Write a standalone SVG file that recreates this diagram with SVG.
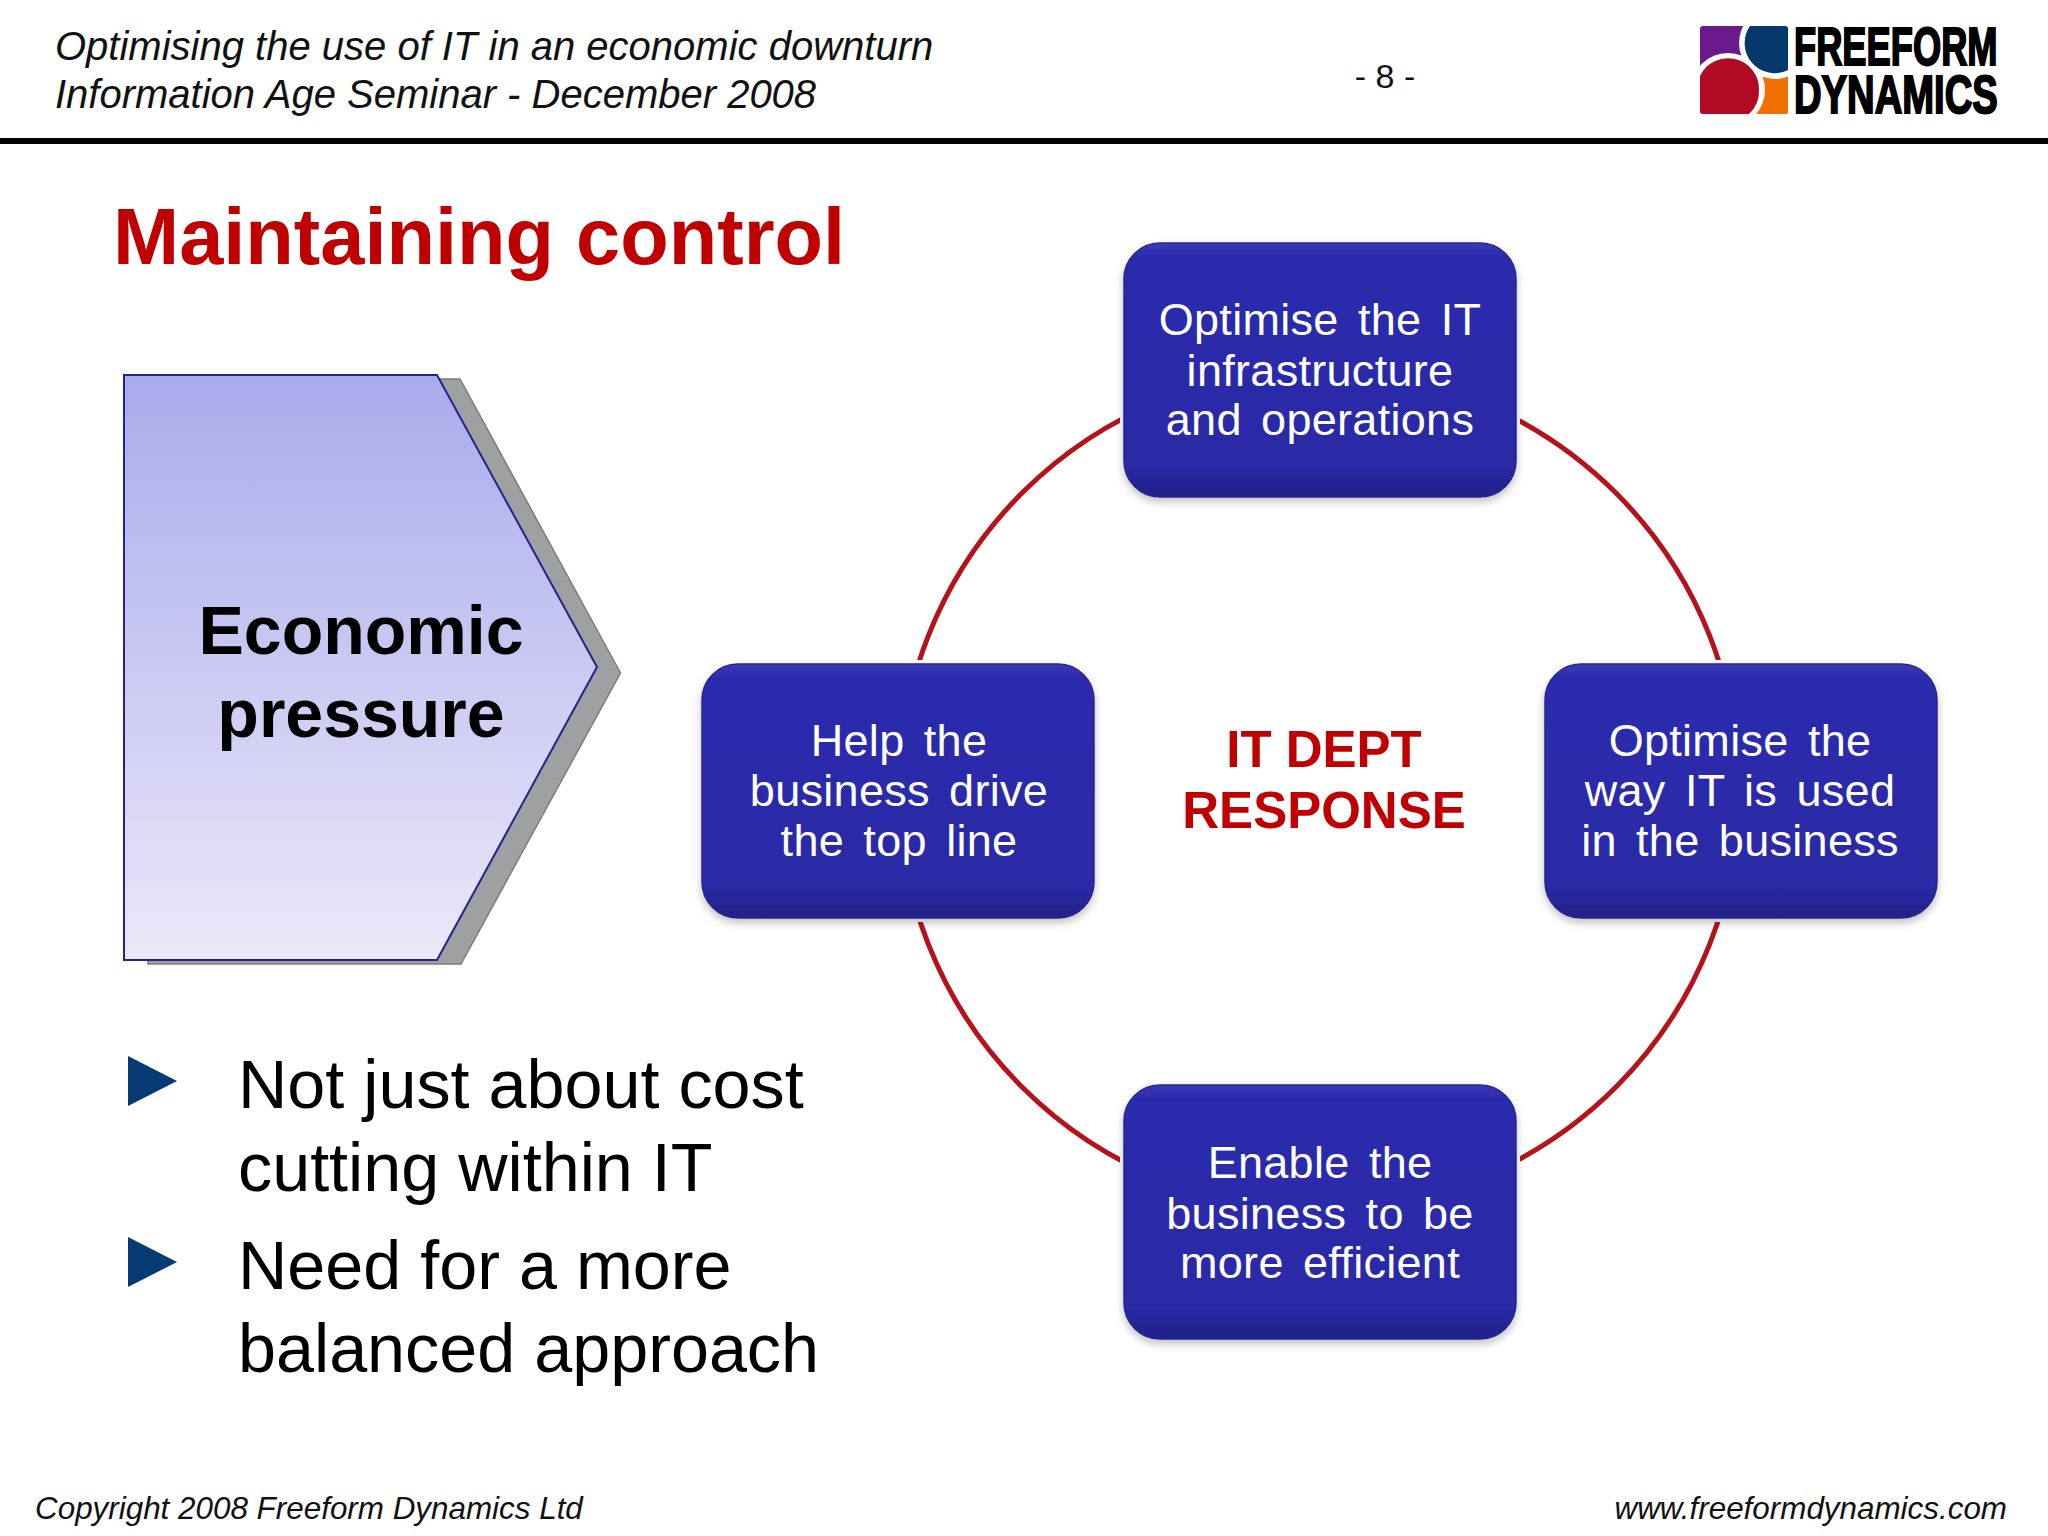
<svg xmlns="http://www.w3.org/2000/svg" width="2048" height="1536" viewBox="0 0 2048 1536">
<defs>
<style>
text{font-family:"Liberation Sans",Arial,sans-serif}
.hd{font-size:40px;font-style:italic;fill:#111}
.ft{font-size:31.4px;font-style:italic;fill:#111}
.nd{font-size:45px;fill:#fff;text-anchor:middle;letter-spacing:.3px;word-spacing:6.5px}
.bu{font-size:68.3px;fill:#000}
.ec{font-size:68px;font-weight:bold;fill:#000;text-anchor:middle}
.re{font-size:51px;font-weight:bold;fill:#c00000;text-anchor:middle}
.box{fill:url(#bg);stroke:#28288a;stroke-width:1.5;filter:url(#sh)}
.halo{fill:#fff;stroke:#fff;stroke-width:8}
.lg{font-size:54px;font-weight:bold;fill:#000;stroke:#000;stroke-width:2}
</style>
<linearGradient id="bg" x1="0" y1="0" x2="0" y2="1">
<stop offset="0" stop-color="#3a3ab8"/><stop offset=".05" stop-color="#2c2cae"/><stop offset=".88" stop-color="#2929a6"/><stop offset=".97" stop-color="#23238f"/><stop offset="1" stop-color="#1f2488"/>
</linearGradient>
<linearGradient id="pg" x1="0" y1="0" x2="0" y2="1">
<stop offset="0" stop-color="#a9abeb"/><stop offset="1" stop-color="#ebe8f9"/>
</linearGradient>
<filter id="sh" x="-10%" y="-10%" width="120%" height="125%"><feDropShadow dx="0" dy="4" stdDeviation="4" flood-color="#000" flood-opacity=".25"/></filter>
<clipPath id="logoclip"><rect x="1700" y="26" width="88" height="88" rx="3"/></clipPath>
</defs>
<rect width="2048" height="1536" fill="#fff"/>
<g id="header">
<text class="hd" x="55" y="60">Optimising the use of IT in an economic downturn</text>
<text class="hd" x="55" y="108">Information Age Seminar - December 2008</text>
<text x="1385" y="88" style="font-size:34px;text-anchor:middle;fill:#111">- 8 -</text>
<rect x="0" y="138" width="2048" height="6" fill="#000"/>
</g>
<g id="logo">
<g clip-path="url(#logoclip)">
<rect x="1700" y="26" width="88" height="88" fill="#6b1a8c"/>
<rect x="1744" y="70" width="44" height="44" fill="#f07000"/>
<circle cx="1775" cy="43" r="36" fill="#fff"/>
<circle cx="1728" cy="90" r="37" fill="#fff"/>
<path d="M1750 26H1788V70A30 30 0 0 1 1750 26Z" fill="#05386b"/>
<path d="M1700 76A31 31 0 0 1 1759 90A31 31 0 0 1 1749 114H1700Z" fill="#b00a24"/>
</g>
<text class="lg" transform="matrix(.672 0 0 1 1794 65)">FREEFORM</text>
<text class="lg" transform="matrix(.708 0 0 1 1794 113)">DYNAMICS</text>
</g>
<text id="title" x="113" y="264" style="font-size:79.4px;font-weight:bold;fill:#c00000">Maintaining control</text>
<g id="connectors">
<circle cx="1319" cy="790" r="420" fill="none" stroke="#b5121b" stroke-width="5"/>
</g>
<g id="economic-pressure">
<path d="M438 379H460L620.5 673L461 964H148V958H438Z" fill="#9fa0a2" stroke="#7c7c7c" stroke-width="1.5"/>
<path d="M124 375H437L597 667L437 960H124Z" fill="url(#pg)" stroke="#23238e" stroke-width="2"/>
<text class="ec" x="361" y="654">Economic</text>
<text class="ec" x="361" y="737">pressure</text>
</g>
<g id="node-top">
<rect class="halo" x="1124" y="243" width="392" height="254" rx="36"/>
<rect class="box" x="1124" y="243" width="392" height="254" rx="36"/>
<text class="nd" x="1320" y="335">Optimise the IT</text>
<text class="nd" x="1320" y="386">infrastructure</text>
<text class="nd" x="1320" y="435">and operations</text>
</g>
<g id="node-left">
<rect class="halo" x="702" y="664" width="392" height="254" rx="36"/>
<rect class="box" x="702" y="664" width="392" height="254" rx="36"/>
<text class="nd" x="899" y="756">Help the</text>
<text class="nd" x="899" y="806">business drive</text>
<text class="nd" x="899" y="856">the top line</text>
</g>
<g id="node-right">
<rect class="halo" x="1545" y="664" width="392" height="254" rx="36"/>
<rect class="box" x="1545" y="664" width="392" height="254" rx="36"/>
<text class="nd" x="1740" y="756">Optimise the</text>
<text class="nd" x="1740" y="806">way IT is used</text>
<text class="nd" x="1740" y="856">in the business</text>
</g>
<g id="node-bottom">
<rect class="halo" x="1124" y="1085" width="392" height="254" rx="36"/>
<rect class="box" x="1124" y="1085" width="392" height="254" rx="36"/>
<text class="nd" x="1320" y="1178">Enable the</text>
<text class="nd" x="1320" y="1229">business to be</text>
<text class="nd" x="1320" y="1278">more efficient</text>
</g>
<g id="center-label">
<text class="re" x="1324" y="767">IT DEPT</text>
<text class="re" x="1324" y="828">RESPONSE</text>
</g>
<g id="bullets">
<path d="M128 1056L177 1081L128 1106Z" fill="#063a73"/>
<path d="M128 1237L177 1262L128 1287Z" fill="#063a73"/>
<text class="bu" x="238" y="1108">Not just about cost</text>
<text class="bu" x="238" y="1190.500">cutting within IT</text>
<text class="bu" x="238" y="1289">Need for a more</text>
<text class="bu" x="238" y="1371.500">balanced approach</text>
</g>
<g id="footer">
<text class="ft" x="35" y="1519">Copyright 2008 Freeform Dynamics Ltd</text>
<text class="ft" x="2007" y="1519" text-anchor="end">www.freeformdynamics.com</text>
</g>
</svg>
